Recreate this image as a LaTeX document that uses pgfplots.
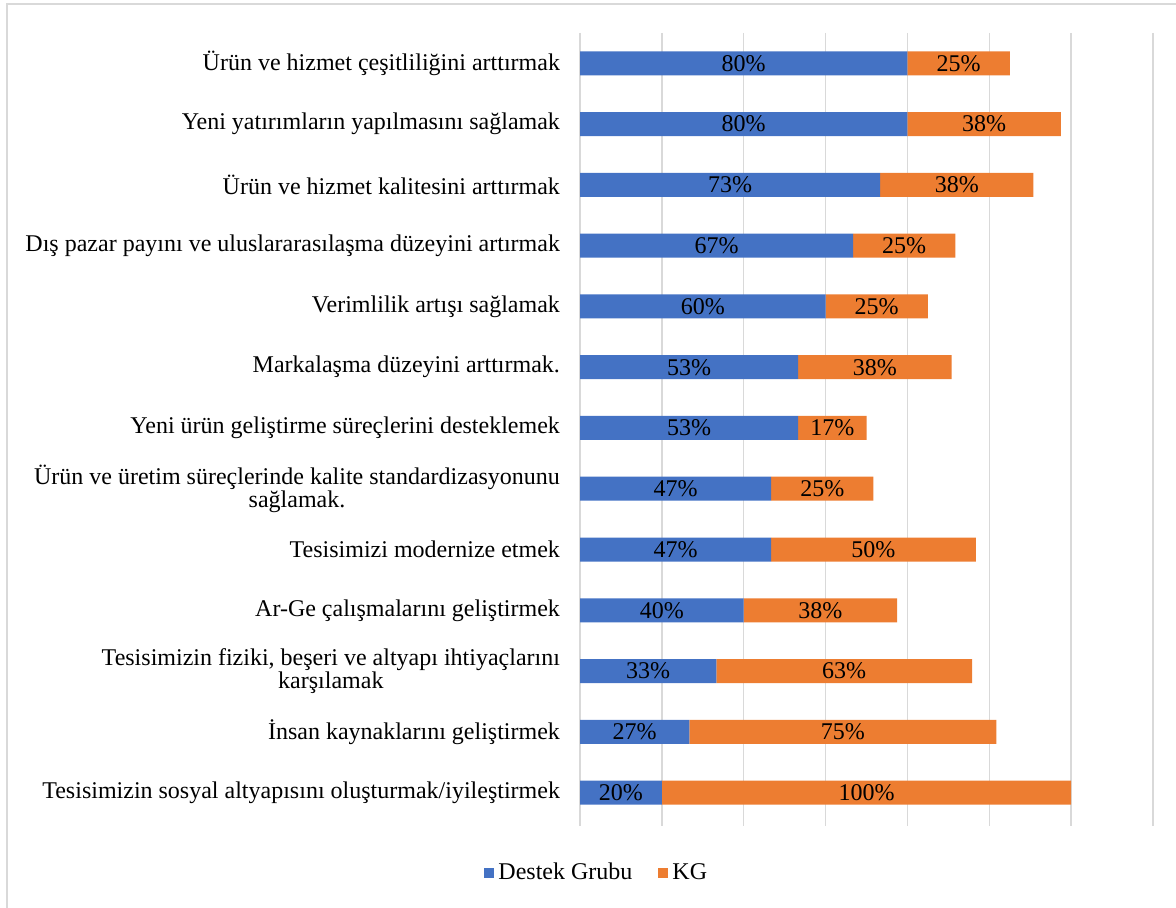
\documentclass[border=0pt]{standalone}
\usepackage{fontspec}
\setmainfont{Liberation Serif}
\usepackage{pgfplots}
\usepackage{pgfplotstable}
\pgfplotsset{compat=1.18}

\definecolor{destek}{HTML}{4472C4}
\definecolor{kg}{HTML}{ED7D31}
\definecolor{gridgray}{HTML}{D9D9D9}

% y: row index from the top, d: Destek Grubu, k: KG, dl/kl: printed labels
\pgfplotstableread{
y  d     k     dl  kl
0  80.0  25.0  80  25
1  80.0  37.5  80  38
2  73.3  37.5  73  38
3  66.7  25.0  67  25
4  60.0  25.0  60  25
5  53.3  37.5  53  38
6  53.3  16.7  53  17
7  46.7  25.0  47  25
8  46.7  50.0  47  50
9  40.0  37.5  40  38
10 33.3  62.5  33  63
11 26.7  75.0  27  75
12 20.0  100.0 20  100
}\datatable

\begin{document}
\begin{tikzpicture}
\useasboundingbox (0,0) rectangle (588pt,454pt);
\draw[gridgray, line width=0.6pt] (3.5pt,-5pt) -- (3.5pt,452pt) -- (600pt,452pt);
\begin{axis}[
    at={(290pt,41pt)}, anchor=south west,
    scale only axis,
    width=286.5pt, height=396.5pt,
    xbar stacked,
    bar width=12pt,
    y dir=reverse,
    xmin=0, xmax=140,
    ymin=-0.5, ymax=12.55,
    xtick={0,20,...,140},
    xticklabels={},
    xmajorgrids,
    major grid style={gridgray, line width=0.75pt},
    axis line style={draw=none},
    major tick length=0pt,
    ytick={0,...,12},
    yticklabels={
        Ürün ve hizmet çeşitliliğini arttırmak,
        Yeni yatırımların yapılmasını sağlamak,
        Ürün ve hizmet kalitesini arttırmak,
        Dış pazar payını ve uluslararasılaşma düzeyini artırmak,
        Verimlilik artışı sağlamak,
        Markalaşma düzeyini arttırmak.,
        Yeni ürün geliştirme süreçlerini desteklemek,
        Ürün ve üretim süreçlerinde kalite standardizasyonunu\\sağlamak.,
        Tesisimizi modernize etmek,
        Ar-Ge çalışmalarını geliştirmek,
        {Tesisimizin fiziki, beşeri ve altyapı ihtiyaçlarını\\karşılamak},
        İnsan kaynaklarını geliştirmek,
        Tesisimizin sosyal altyapısını oluşturmak/iyileştirmek},
    yticklabel style={align=center, xshift=-6.5pt, font=\fontsize{12}{11.5}\selectfont},
    nodes near coords={\pgfplotspointmeta\%},
    point meta=explicit symbolic,
    every node near coord/.append style={anchor=center, black,
        font=\fontsize{12}{14}\selectfont},
    legend style={at={(0.031,-0.0593)}, anchor=center, draw=none, fill=none,
        legend columns=-1, font=\fontsize{12}{14}\selectfont,
        /tikz/every even column/.append style={column sep=11pt}},
    legend image code/.code={\draw[#1,draw=none] (0pt,-2.5pt) rectangle (5pt,2.5pt);},
    legend cell align=left,
]
\addplot[fill=destek, draw=none] table[x=d, y=y, meta=dl] {\datatable};
\addplot[fill=kg, draw=none] table[x=k, y=y, meta=kl] {\datatable};
\legend{Destek Grubu, KG}
\end{axis}
\end{tikzpicture}
\end{document}
